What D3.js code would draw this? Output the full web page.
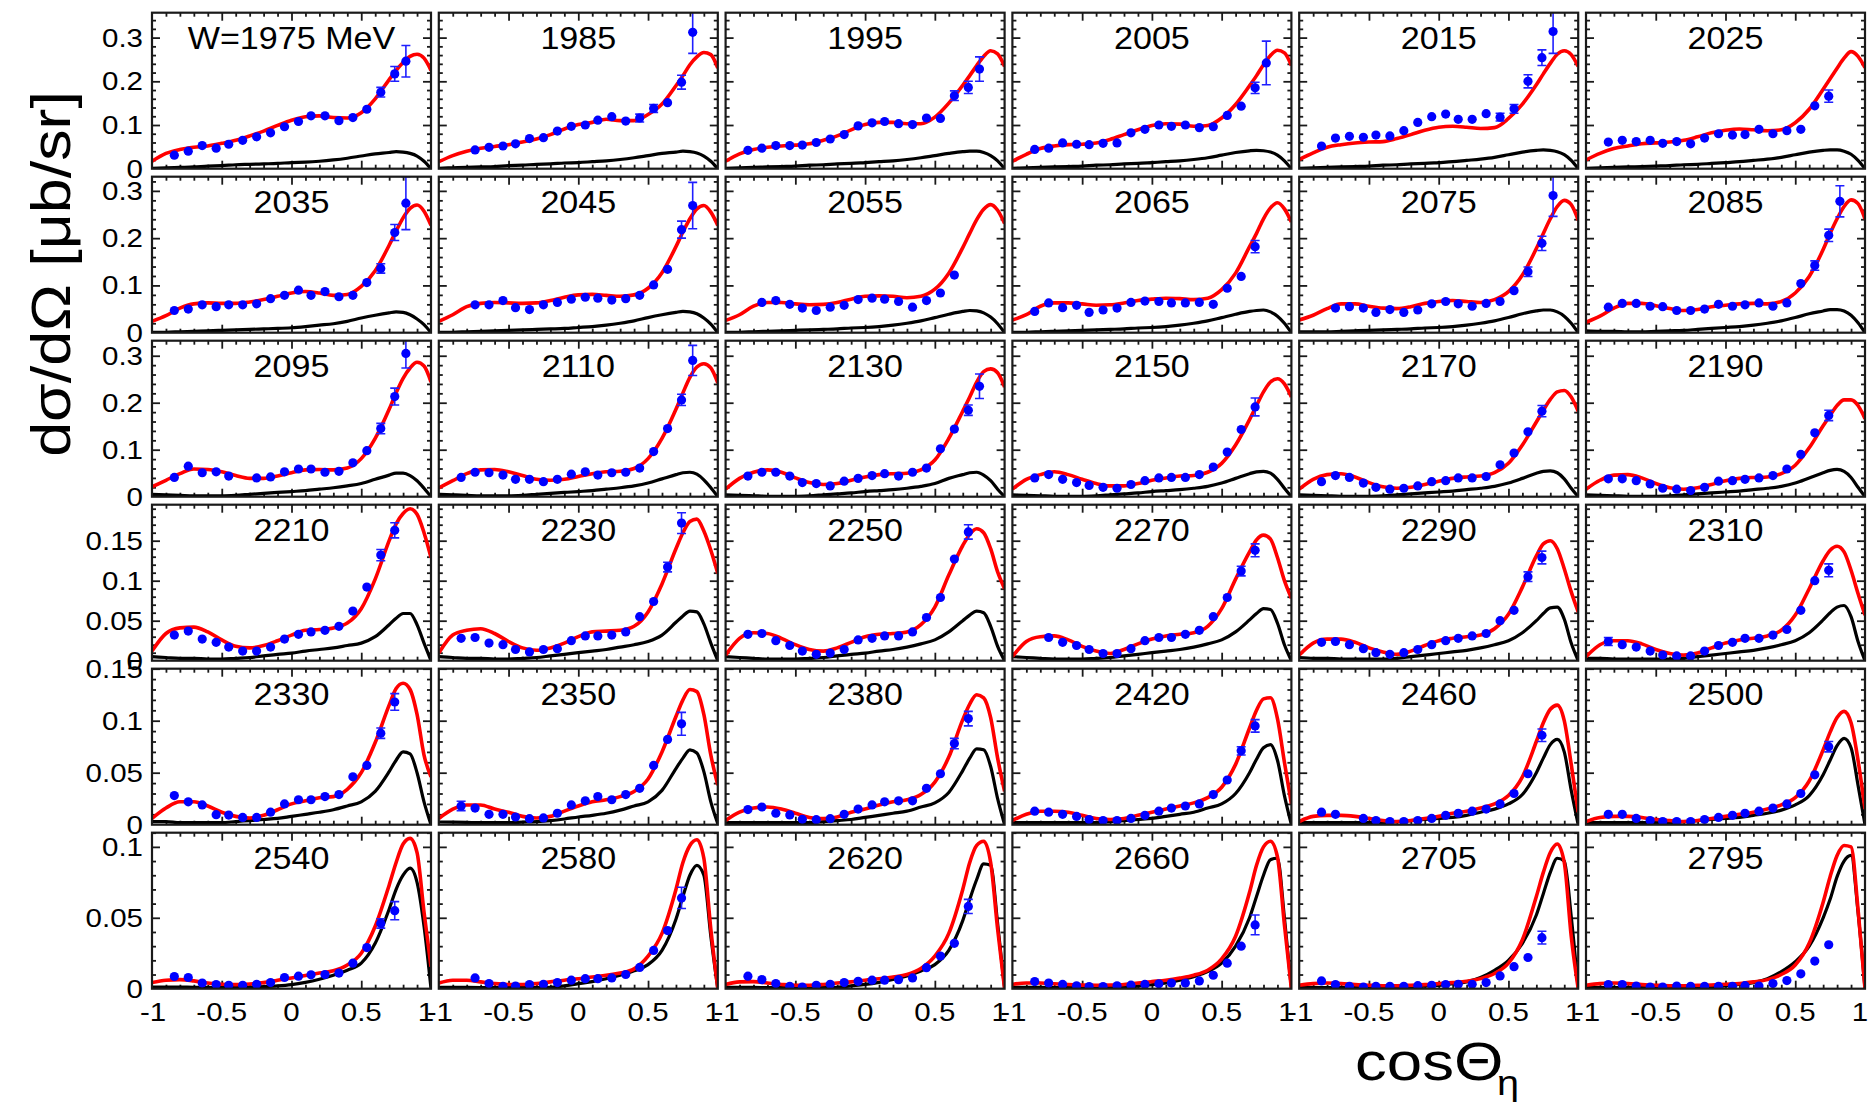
<!DOCTYPE html>
<html>
<head>
<meta charset="utf-8">
<script src="https://cdn.jsdelivr.net/npm/d3@7"></script>
<style>
  body { margin: 0; background: #fff; }
  text { font-family: "Liberation Sans", Arial, Helvetica, sans-serif; fill: #000; }
</style>
</head>
<body>
<svg id="chart" width="1868" height="1105"></svg>
<script>
// Beam energies W (MeV), one panel each, read row by row
const energies = [1975,1985,1995,2005,2015,2025,
                  2035,2045,2055,2065,2075,2085,
                  2095,2110,2130,2150,2170,2190,
                  2210,2230,2250,2270,2290,2310,
                  2330,2350,2380,2420,2460,2500,
                  2540,2580,2620,2660,2705,2795];

// y range and tick labels for each row of panels
const rowYMax = [0.357, 0.33, 0.332, 0.195, 0.15, 0.11];
const rowYTickSets = [
  [["0",0],["0.1",0.1],["0.2",0.2],["0.3",0.3]],
  [["0",0],["0.1",0.1],["0.2",0.2],["0.3",0.3]],
  [["0",0],["0.1",0.1],["0.2",0.2],["0.3",0.3]],
  [["0",0],["0.05",0.05],["0.1",0.1],["0.15",0.15]],
  [["0",0],["0.05",0.05],["0.1",0.1],["0.15",0.15]],
  [["0",0],["0.05",0.05],["0.1",0.1]]
];
const rowYMinor = [0.02,0.02,0.02,0.01,0.01,0.01];
const xTickLabels = [["-1",-1],["-0.5",-0.5],["0",0],["0.5",0.5],["1",1]];

// cos(theta_eta) bin centres of the measured points
const cosBins = [-0.84,-0.74,-0.64,-0.54,-0.45,-0.35,-0.25,-0.15,-0.05,0.05,0.14,0.24,0.34,0.44,0.54,0.64,0.74,0.82];

// dsigma/dOmega [mub/sr] per panel, one entry per bin (null = no point)
const sigma = [
 [0.031,0.040,0.053,0.047,0.056,0.065,0.073,0.082,0.096,0.108,0.121,0.121,0.110,0.117,0.136,0.175,0.217,0.246],
 [null,0.043,0.049,0.052,0.057,0.069,0.071,0.086,0.097,0.100,0.111,0.119,0.109,0.116,0.138,0.151,0.198,0.312],
 [0.042,0.047,0.053,0.053,0.054,0.060,0.068,0.078,0.098,0.105,0.108,0.103,0.101,0.116,0.115,0.167,0.186,0.228],
 [0.044,0.047,0.059,0.056,0.055,0.058,0.059,0.082,0.090,0.100,0.097,0.100,0.094,0.096,0.122,0.143,0.185,0.242],
 [0.052,0.070,0.074,0.072,0.077,0.075,0.087,0.106,0.119,0.125,0.113,0.113,0.126,0.118,0.137,0.200,0.254,0.314],
 [0.061,0.065,0.062,0.065,0.058,0.062,0.057,0.070,0.080,0.077,0.078,0.090,0.080,0.087,0.090,0.144,0.166,null],
 [0.047,0.050,0.059,0.055,0.059,0.059,0.061,0.072,0.079,0.090,0.079,0.087,0.076,0.079,0.106,0.136,0.212,0.274],
 [null,0.059,0.059,0.068,0.053,0.049,0.059,0.064,0.071,0.075,0.073,0.069,0.072,0.079,0.101,0.134,0.218,0.269],
 [null,0.064,0.068,0.060,0.052,0.047,0.054,0.058,0.070,0.073,0.071,0.066,0.054,0.068,0.084,0.122,null,null],
 [0.045,0.063,0.053,0.058,0.043,0.048,0.052,0.064,0.067,0.066,0.063,0.063,0.064,0.060,0.094,0.119,0.182,null],
 [null,0.052,0.055,0.052,0.043,0.049,0.043,0.048,0.061,0.066,0.061,0.056,0.062,0.066,0.089,0.129,0.189,0.290],
 [0.054,0.062,0.062,0.056,0.055,0.047,0.047,0.050,0.060,0.056,0.059,0.063,0.056,0.063,0.104,0.142,0.206,0.278],
 [0.041,0.065,0.051,0.053,0.044,null,0.040,0.042,0.053,0.059,0.059,0.052,0.054,0.072,0.098,0.145,0.213,0.305],
 [0.041,0.052,0.051,0.046,0.037,0.037,0.032,0.037,0.048,0.053,0.046,0.051,0.052,0.061,0.096,0.145,0.206,0.290],
 [0.044,0.052,0.052,0.044,0.030,0.028,0.023,0.033,0.039,0.045,0.049,0.044,0.052,0.061,0.102,0.144,0.184,0.235],
 [0.040,0.047,0.037,0.030,0.024,0.020,0.018,0.026,0.034,0.040,0.041,0.041,0.047,0.063,0.095,0.143,0.191,null],
 [0.032,0.045,0.041,0.029,0.020,0.016,0.018,0.023,0.032,0.034,0.040,0.040,0.043,0.068,0.093,0.138,0.182,null],
 [0.038,0.038,0.034,0.027,0.018,0.016,0.013,0.020,0.033,0.034,0.037,0.040,0.045,0.059,0.090,0.136,0.173,null],
 [0.032,0.037,0.027,0.023,0.017,0.012,0.012,0.017,0.027,0.033,0.036,0.038,0.043,0.062,0.092,0.132,0.163,null],
 [0.028,0.029,0.022,0.020,0.014,0.011,0.014,0.015,0.025,0.031,0.031,0.032,0.036,0.055,0.074,0.117,0.172,null],
 [0.033,0.034,0.025,0.019,0.012,0.008,0.0095,0.014,0.026,0.028,0.031,0.031,0.036,0.054,0.079,0.127,0.161,null],
 [null,0.029,0.023,0.019,0.014,0.009,0.009,0.015,0.025,0.029,0.029,0.033,0.038,0.055,0.079,0.112,0.138,null],
 [0.023,0.024,0.020,0.015,0.010,0.008,0.010,0.014,0.020,0.025,0.028,0.031,0.034,0.050,0.063,0.105,0.129,null],
 [0.024,0.020,0.017,0.012,0.007,0.006,0.006,0.012,0.019,0.023,0.028,0.028,0.032,0.039,0.063,0.100,0.113,null],
 [0.028,0.022,0.019,0.0096,0.0093,0.007,0.007,0.012,0.020,0.024,0.024,0.027,0.029,0.046,0.057,0.088,0.118,null],
 [0.018,0.016,0.010,0.010,0.0074,0.0058,0.0065,0.011,0.019,0.023,0.027,0.024,0.029,0.035,0.057,0.082,0.097,null],
 [0.0145,0.017,0.011,0.0094,0.0052,0.0048,0.0058,0.010,0.015,0.019,0.022,0.023,0.023,0.035,0.049,0.078,0.102,null],
 [0.013,0.012,0.010,0.008,0.005,0.004,0.004,0.006,0.009,0.013,0.016,0.018,0.020,0.029,0.043,0.071,0.095,null],
 [0.012,0.010,null,0.006,0.004,0.003,0.003,0.004,0.006,0.009,0.011,0.013,0.015,0.020,0.030,0.049,0.086,null],
 [0.010,0.010,0.006,0.004,0.003,0.003,0.003,0.005,0.007,0.009,0.011,0.013,0.016,0.020,0.030,0.048,0.075,null],
 [0.0086,0.0079,0.004,0.0029,0.0024,0.0024,0.0031,0.0043,0.0079,0.0088,0.0098,0.010,0.011,0.018,0.029,0.046,0.055,null],
 [null,0.0076,0.0036,0.0017,0.0019,0.0029,0.0031,0.0043,0.006,0.0071,0.0071,0.0076,0.010,0.015,0.027,0.041,0.064,null],
 [0.0088,0.0064,0.0036,0.0017,0.0012,0.0024,0.0031,0.0043,0.0052,0.006,0.006,0.0064,0.0076,0.0148,0.023,0.032,0.058,null],
 [0.005,0.004,0.003,0.002,0.0015,0.0015,0.002,0.0025,0.003,0.0035,0.004,0.004,0.0055,0.0095,0.018,0.030,0.045,null],
 [0.0055,0.0029,0.0017,0.0012,0.0017,0.0017,0.0017,0.0021,0.0024,0.0029,0.0031,0.0031,0.0043,0.009,0.0155,0.022,0.036,null],
 [0.0029,0.0029,0.0019,0.0012,0.0012,0.0019,0.0017,0.0017,0.0017,0.0017,0.0021,0.0019,0.0036,0.0057,0.0105,0.0195,0.031,null]
];

// statistical errors, keyed by bin index (only where they exceed the marker)
const sigmaErr = [
 {15:0.011,16:0.017,17:0.036}, {13:0.009,14:0.009,16:0.016,17:0.048}, {15:0.011,16:0.014,17:0.028},
 {16:0.013,17:0.05}, {13:0.009,14:0.010,15:0.015,16:0.018,17:0.05}, {16:0.014},
 {15:0.010,16:0.017,17:0.056}, {16:0.018,17:0.049}, {},
 {16:0.013}, {15:0.010,16:0.015,17:0.044}, {15:0.010,16:0.013,17:0.033},
 {15:0.011,16:0.018,17:0.031}, {16:0.012,17:0.032}, {16:0.011,17:0.026},
 {16:0.019}, {16:0.012}, {16:0.011},
 {15:0.007,16:0.0095}, {15:0.006,16:0.013}, {16:0.009},
 {15:0.006,16:0.008}, {15:0.006,16:0.008}, {0:0.005,16:0.008},
 {15:0.005,16:0.008}, {0:0.0045,16:0.011}, {15:0.005,16:0.007},
 {15:0.004,16:0.006}, {16:0.006}, {16:0.005},
 {15:0.0033,16:0.0064}, {16:0.0075}, {16:0.005},
 {16:0.007}, {16:0.0045}, {}
];

// abscissae of the model curves
const curveCos = [-1,-0.9,-0.8,-0.7,-0.6,-0.5,-0.4,-0.3,-0.2,-0.1,0,0.1,0.2,0.3,0.4,0.5,0.6,0.7,0.75,0.8,0.85,0.9,0.95,1];

// full model (red)
const fitFull = [
 [0.017,0.035,0.044,0.049,0.052,0.058,0.065,0.075,0.086,0.099,0.111,0.119,0.121,0.117,0.116,0.128,0.160,0.204,0.225,0.243,0.257,0.262,0.253,0.225],
 [0.016,0.030,0.040,0.047,0.051,0.055,0.061,0.068,0.078,0.091,0.101,0.106,0.113,0.110,0.110,0.124,0.148,0.190,0.213,0.238,0.256,0.266,0.261,0.230],
 [0.017,0.034,0.044,0.049,0.052,0.054,0.057,0.065,0.075,0.089,0.101,0.106,0.106,0.103,0.103,0.118,0.150,0.191,0.213,0.236,0.257,0.270,0.263,0.234],
 [0.017,0.033,0.046,0.052,0.055,0.056,0.059,0.067,0.078,0.089,0.099,0.103,0.102,0.097,0.099,0.116,0.147,0.190,0.213,0.238,0.259,0.271,0.265,0.236],
 [0.021,0.036,0.049,0.055,0.059,0.061,0.062,0.069,0.078,0.088,0.095,0.097,0.095,0.092,0.094,0.115,0.148,0.192,0.217,0.241,0.262,0.270,0.261,0.234],
 [0.020,0.035,0.046,0.052,0.057,0.059,0.061,0.065,0.073,0.082,0.088,0.091,0.089,0.087,0.089,0.105,0.136,0.182,0.206,0.230,0.253,0.268,0.257,0.231],
 [0.024,0.036,0.052,0.061,0.063,0.062,0.062,0.065,0.070,0.077,0.084,0.087,0.084,0.079,0.081,0.098,0.131,0.185,0.215,0.243,0.263,0.270,0.257,0.227],
 [0.024,0.038,0.055,0.062,0.064,0.063,0.062,0.063,0.068,0.075,0.080,0.081,0.079,0.077,0.080,0.094,0.127,0.182,0.213,0.241,0.262,0.269,0.255,0.227],
 [0.026,0.038,0.056,0.064,0.064,0.061,0.059,0.060,0.064,0.071,0.077,0.078,0.077,0.074,0.077,0.092,0.126,0.180,0.210,0.239,0.261,0.271,0.259,0.231],
 [0.027,0.038,0.056,0.063,0.063,0.061,0.058,0.059,0.063,0.068,0.071,0.073,0.072,0.070,0.073,0.091,0.126,0.182,0.210,0.241,0.264,0.275,0.262,0.234],
 [0.027,0.037,0.051,0.061,0.061,0.056,0.052,0.051,0.055,0.062,0.066,0.068,0.066,0.064,0.070,0.087,0.122,0.178,0.210,0.241,0.267,0.280,0.271,0.238],
 [0.022,0.035,0.052,0.062,0.062,0.057,0.051,0.047,0.049,0.055,0.058,0.061,0.062,0.061,0.066,0.084,0.119,0.176,0.210,0.241,0.267,0.281,0.273,0.241],
 [0.021,0.035,0.049,0.059,0.058,0.053,0.045,0.039,0.039,0.044,0.051,0.057,0.058,0.057,0.061,0.081,0.124,0.186,0.221,0.252,0.274,0.286,0.278,0.244],
 [0.019,0.034,0.049,0.057,0.058,0.053,0.045,0.037,0.035,0.037,0.043,0.049,0.053,0.054,0.060,0.081,0.124,0.186,0.221,0.254,0.276,0.283,0.274,0.242],
 [0.016,0.039,0.052,0.057,0.052,0.040,0.030,0.026,0.028,0.035,0.042,0.047,0.049,0.050,0.057,0.078,0.124,0.182,0.212,0.244,0.266,0.272,0.264,0.233],
 [0.016,0.037,0.047,0.053,0.047,0.037,0.028,0.023,0.023,0.028,0.035,0.040,0.044,0.045,0.052,0.071,0.110,0.164,0.194,0.223,0.244,0.251,0.240,0.212],
 [0.016,0.037,0.047,0.049,0.042,0.030,0.021,0.018,0.020,0.026,0.033,0.039,0.042,0.044,0.051,0.071,0.110,0.159,0.184,0.207,0.223,0.226,0.212,0.182],
 [0.016,0.035,0.046,0.047,0.040,0.028,0.019,0.016,0.019,0.026,0.034,0.039,0.041,0.042,0.049,0.067,0.104,0.151,0.173,0.194,0.206,0.206,0.194,0.166],
 [0.012,0.034,0.041,0.042,0.036,0.026,0.018,0.016,0.019,0.025,0.032,0.038,0.039,0.041,0.047,0.065,0.102,0.150,0.171,0.184,0.190,0.183,0.160,0.129],
 [0.0095,0.032,0.038,0.040,0.034,0.024,0.016,0.013,0.016,0.022,0.030,0.036,0.037,0.038,0.043,0.061,0.096,0.140,0.160,0.174,0.177,0.162,0.138,0.109],
 [0.007,0.028,0.035,0.034,0.028,0.020,0.014,0.012,0.016,0.023,0.030,0.033,0.034,0.036,0.045,0.067,0.107,0.144,0.158,0.165,0.160,0.140,0.111,0.090],
 [0.005,0.024,0.030,0.031,0.026,0.018,0.012,0.009,0.014,0.021,0.027,0.031,0.033,0.035,0.043,0.065,0.102,0.136,0.151,0.157,0.152,0.129,0.100,0.078],
 [0.007,0.022,0.027,0.027,0.023,0.016,0.011,0.008,0.012,0.019,0.025,0.028,0.030,0.032,0.040,0.058,0.092,0.131,0.146,0.150,0.140,0.115,0.086,0.061],
 [0.005,0.020,0.025,0.025,0.021,0.014,0.009,0.007,0.0095,0.016,0.022,0.026,0.028,0.031,0.038,0.057,0.090,0.125,0.138,0.143,0.136,0.113,0.084,0.057],
 [0.006,0.016,0.022,0.022,0.018,0.012,0.008,0.0064,0.009,0.0144,0.020,0.023,0.026,0.027,0.034,0.050,0.079,0.115,0.131,0.136,0.130,0.106,0.067,0.046],
 [0.006,0.015,0.019,0.019,0.015,0.012,0.008,0.0065,0.008,0.013,0.018,0.022,0.024,0.027,0.032,0.044,0.070,0.104,0.120,0.130,0.128,0.106,0.067,0.038],
 [0.004,0.012,0.016,0.017,0.015,0.011,0.007,0.0058,0.0074,0.012,0.015,0.019,0.022,0.024,0.029,0.041,0.065,0.101,0.116,0.125,0.122,0.103,0.064,0.032],
 [0.004,0.010,0.013,0.013,0.012,0.009,0.006,0.005,0.006,0.009,0.012,0.015,0.018,0.021,0.026,0.036,0.058,0.093,0.110,0.121,0.122,0.102,0.060,0.020],
 [0.003,0.008,0.009,0.009,0.008,0.006,0.004,0.003,0.004,0.006,0.008,0.011,0.013,0.016,0.020,0.028,0.046,0.080,0.098,0.111,0.115,0.100,0.058,0.012],
 [0.003,0.007,0.008,0.008,0.007,0.005,0.004,0.003,0.004,0.006,0.008,0.010,0.012,0.015,0.019,0.026,0.042,0.072,0.089,0.103,0.109,0.098,0.062,0.015],
 [0.0043,0.006,0.0064,0.0055,0.004,0.0031,0.0029,0.0033,0.0043,0.006,0.0076,0.0093,0.011,0.0126,0.0167,0.025,0.044,0.073,0.089,0.102,0.106,0.096,0.054,0.0155],
 [0.004,0.006,0.006,0.0048,0.0036,0.003,0.003,0.0036,0.0048,0.006,0.007,0.0083,0.0095,0.011,0.014,0.023,0.039,0.070,0.089,0.101,0.105,0.092,0.042,0.0],
 [0.003,0.0048,0.005,0.004,0.003,0.0024,0.0024,0.003,0.004,0.0048,0.006,0.007,0.0083,0.010,0.0143,0.023,0.039,0.070,0.089,0.101,0.104,0.089,0.042,0.0],
 [0.003,0.004,0.004,0.0035,0.003,0.0025,0.0024,0.0026,0.003,0.004,0.005,0.006,0.0075,0.0095,0.013,0.021,0.037,0.068,0.087,0.100,0.104,0.093,0.045,0.0],
 [0.0024,0.0036,0.004,0.0036,0.0029,0.0024,0.0021,0.0021,0.0024,0.0029,0.0036,0.0043,0.0052,0.0071,0.0107,0.018,0.0345,0.065,0.082,0.096,0.102,0.089,0.037,0.0],
 [0.0024,0.0036,0.004,0.0036,0.0029,0.0024,0.0021,0.0021,0.0024,0.0026,0.0031,0.0036,0.0048,0.0064,0.010,0.0167,0.032,0.061,0.079,0.094,0.101,0.100,0.056,0.0]
];

// single-contribution model (black)
const fitPart = [
 [0.001,0.002,0.003,0.004,0.006,0.007,0.009,0.010,0.011,0.012,0.014,0.015,0.017,0.020,0.024,0.029,0.034,0.037,0.039,0.038,0.035,0.029,0.017,0.0],
 [0.001,0.002,0.003,0.004,0.005,0.007,0.008,0.010,0.011,0.013,0.014,0.016,0.018,0.021,0.025,0.030,0.035,0.038,0.040,0.039,0.036,0.029,0.017,0.0],
 [0.001,0.002,0.003,0.004,0.005,0.006,0.008,0.009,0.011,0.012,0.014,0.016,0.018,0.021,0.025,0.030,0.035,0.039,0.040,0.040,0.037,0.030,0.018,0.0],
 [0.001,0.002,0.003,0.004,0.005,0.006,0.008,0.009,0.011,0.012,0.014,0.016,0.018,0.021,0.025,0.031,0.037,0.041,0.042,0.041,0.038,0.031,0.018,0.0],
 [0.001,0.002,0.003,0.004,0.005,0.006,0.008,0.009,0.011,0.012,0.014,0.016,0.019,0.022,0.026,0.032,0.038,0.042,0.043,0.042,0.039,0.032,0.019,0.0],
 [0.001,0.002,0.003,0.004,0.005,0.006,0.007,0.009,0.010,0.012,0.014,0.016,0.019,0.022,0.026,0.032,0.038,0.042,0.043,0.043,0.040,0.033,0.019,0.0],
 [0.001,0.001,0.002,0.003,0.004,0.005,0.006,0.007,0.008,0.009,0.0105,0.013,0.016,0.019,0.024,0.031,0.037,0.042,0.044,0.043,0.038,0.029,0.017,0.0],
 [0.001,0.001,0.002,0.003,0.004,0.005,0.006,0.007,0.008,0.009,0.011,0.013,0.016,0.020,0.025,0.032,0.038,0.043,0.045,0.044,0.040,0.031,0.018,0.0],
 [0.001,0.001,0.002,0.003,0.004,0.005,0.006,0.007,0.008,0.010,0.011,0.013,0.016,0.020,0.025,0.032,0.039,0.045,0.047,0.046,0.042,0.033,0.019,0.0],
 [0.001,0.001,0.002,0.003,0.004,0.005,0.006,0.007,0.008,0.010,0.011,0.013,0.016,0.020,0.025,0.032,0.039,0.045,0.047,0.048,0.044,0.035,0.020,0.0],
 [0.002,0.002,0.002,0.003,0.004,0.005,0.006,0.007,0.008,0.010,0.011,0.013,0.016,0.020,0.025,0.032,0.040,0.046,0.048,0.048,0.044,0.035,0.020,0.0],
 [0.004,0.003,0.003,0.002,0.002,0.003,0.004,0.005,0.007,0.009,0.011,0.013,0.016,0.020,0.025,0.032,0.040,0.046,0.049,0.049,0.046,0.037,0.021,0.0],
 [0.005,0.004,0.003,0.002,0.002,0.002,0.003,0.005,0.007,0.009,0.011,0.013,0.016,0.019,0.023,0.028,0.037,0.046,0.050,0.050,0.045,0.034,0.018,0.0],
 [0.005,0.004,0.003,0.002,0.002,0.002,0.003,0.005,0.007,0.009,0.011,0.013,0.016,0.019,0.023,0.029,0.038,0.047,0.051,0.052,0.048,0.036,0.019,0.0],
 [0.004,0.003,0.002,0.001,0.001,0.001,0.002,0.004,0.006,0.008,0.011,0.013,0.015,0.018,0.022,0.028,0.039,0.047,0.051,0.052,0.046,0.034,0.016,0.0],
 [0.004,0.003,0.002,0.001,0.001,0.001,0.002,0.004,0.006,0.008,0.011,0.013,0.015,0.018,0.022,0.029,0.039,0.049,0.053,0.054,0.050,0.037,0.018,0.0],
 [0.004,0.003,0.002,0.001,0.001,0.001,0.002,0.004,0.006,0.008,0.010,0.012,0.015,0.018,0.022,0.029,0.039,0.050,0.054,0.055,0.051,0.038,0.018,0.0],
 [0.004,0.003,0.002,0.001,0.001,0.001,0.002,0.004,0.006,0.008,0.010,0.012,0.015,0.018,0.022,0.029,0.040,0.051,0.056,0.058,0.054,0.041,0.020,0.0],
 [0.005,0.004,0.003,0.003,0.002,0.002,0.003,0.004,0.006,0.008,0.0095,0.012,0.014,0.016,0.019,0.022,0.030,0.045,0.053,0.059,0.059,0.045,0.022,0.0],
 [0.005,0.004,0.003,0.003,0.002,0.002,0.003,0.004,0.006,0.008,0.010,0.012,0.014,0.017,0.020,0.024,0.032,0.048,0.056,0.062,0.061,0.046,0.022,0.0],
 [0.005,0.004,0.003,0.002,0.002,0.002,0.003,0.004,0.006,0.008,0.0095,0.012,0.014,0.017,0.021,0.026,0.036,0.050,0.057,0.062,0.060,0.043,0.018,0.0],
 [0.005,0.004,0.003,0.002,0.002,0.002,0.003,0.004,0.006,0.008,0.010,0.012,0.014,0.017,0.021,0.026,0.036,0.051,0.059,0.065,0.064,0.047,0.020,0.0],
 [0.004,0.003,0.003,0.002,0.002,0.002,0.002,0.003,0.005,0.007,0.009,0.011,0.013,0.016,0.020,0.025,0.035,0.050,0.059,0.066,0.067,0.052,0.022,0.0],
 [0.003,0.003,0.002,0.002,0.002,0.002,0.002,0.003,0.005,0.007,0.009,0.011,0.013,0.016,0.020,0.025,0.035,0.051,0.060,0.067,0.069,0.055,0.024,0.0],
 [0.003,0.003,0.002,0.002,0.002,0.002,0.003,0.004,0.005,0.006,0.008,0.010,0.012,0.0144,0.018,0.022,0.032,0.051,0.062,0.070,0.068,0.050,0.022,0.0],
 [0.0026,0.0024,0.0022,0.002,0.002,0.002,0.0025,0.003,0.004,0.0055,0.0074,0.009,0.011,0.014,0.018,0.022,0.033,0.054,0.064,0.072,0.069,0.051,0.022,0.001],
 [0.002,0.002,0.002,0.002,0.002,0.002,0.002,0.003,0.004,0.005,0.007,0.009,0.011,0.013,0.017,0.021,0.031,0.052,0.064,0.073,0.072,0.056,0.025,0.0],
 [0.002,0.002,0.002,0.002,0.002,0.002,0.002,0.003,0.004,0.005,0.006,0.008,0.010,0.012,0.016,0.020,0.030,0.050,0.063,0.074,0.077,0.062,0.028,0.0],
 [0.002,0.002,0.002,0.002,0.002,0.002,0.002,0.003,0.004,0.005,0.006,0.007,0.009,0.012,0.015,0.020,0.029,0.050,0.064,0.077,0.082,0.070,0.033,0.0],
 [0.002,0.002,0.002,0.002,0.002,0.002,0.002,0.003,0.004,0.005,0.006,0.007,0.009,0.011,0.014,0.019,0.028,0.048,0.062,0.076,0.083,0.074,0.038,0.0],
 [0.0012,0.0012,0.0011,0.001,0.0009,0.0008,0.0009,0.0012,0.0015,0.002,0.0029,0.0045,0.0067,0.0095,0.013,0.018,0.032,0.056,0.070,0.080,0.085,0.075,0.044,0.0],
 [0.001,0.001,0.0009,0.0008,0.0007,0.0007,0.0007,0.0008,0.001,0.002,0.0036,0.005,0.007,0.0095,0.0126,0.017,0.027,0.049,0.065,0.080,0.087,0.080,0.037,0.0],
 [0.001,0.001,0.0009,0.0008,0.0007,0.0007,0.0007,0.0008,0.001,0.002,0.003,0.0045,0.0065,0.009,0.0125,0.017,0.027,0.048,0.063,0.077,0.088,0.087,0.046,0.0],
 [0.001,0.001,0.0009,0.0008,0.0007,0.0007,0.0007,0.0008,0.001,0.0018,0.0028,0.004,0.006,0.0085,0.012,0.018,0.030,0.050,0.065,0.080,0.091,0.092,0.050,0.0],
 [0.0007,0.0007,0.0007,0.0007,0.0007,0.0007,0.0008,0.001,0.0013,0.0018,0.0024,0.0035,0.0048,0.0079,0.013,0.020,0.032,0.052,0.067,0.082,0.092,0.090,0.051,0.0],
 [0.0007,0.0007,0.0007,0.0007,0.0007,0.0008,0.0009,0.001,0.0012,0.0015,0.002,0.003,0.0043,0.0071,0.012,0.019,0.030,0.050,0.063,0.079,0.090,0.094,0.054,0.0]
];

// ---- layout ----
const svg = d3.select("#chart");
const nCols = 6;
const gridLeft = 152, colPitch = 286.8, panelW = 279;
const gridTop = 12.7, rowPitch = 164, panelH = 156;
const RED = "#ff0000", BLUE = "#0000ff", FRAME = "#1a1a1a";

// text with the slightly wide look of the original typeface
function wideText(parent, x, y, str, size, stretch, anchor) {
  return parent.append("text")
    .attr("transform", `translate(${x},${y}) scale(${stretch},1)`)
    .attr("font-size", size)
    .attr("text-anchor", anchor || "middle")
    .text(str);
}

const defs = svg.append("defs");

energies.forEach((W, i) => {
  const r = Math.floor(i / nCols), c = i % nCols;
  const left = gridLeft + c * colPitch, top = gridTop + r * rowPitch;
  const x = d3.scaleLinear().domain([-1, 1]).range([left, left + panelW]);
  const y = d3.scaleLinear().domain([0, rowYMax[r]]).range([top + panelH, top]);
  const g = svg.append("g").attr("class", "panel");

  defs.append("clipPath").attr("id", "clip" + i)
    .append("rect").attr("x", left).attr("y", top).attr("width", panelW).attr("height", panelH);

  // ticks on all four sides, pointing inwards
  const xMajor = [-0.5, 0, 0.5];
  const xMinor = d3.range(-9, 10).map(k => k / 10).filter(v => Math.abs(v * 2 - Math.round(v * 2)) > 1e-6);
  const yStep = rowYMinor[r];
  const yMajorStep = r < 3 ? 0.1 : 0.05;
  const yAll = d3.range(1, Math.floor(rowYMax[r] / yStep + 1e-6) + 1).map(k => +(k * yStep).toFixed(4));
  const yMajor = yAll.filter(v => Math.abs(v / yMajorStep - Math.round(v / yMajorStep)) < 1e-6);
  const yMinor = yAll.filter(v => !yMajor.includes(v));

  const tickG = g.append("g").attr("color", FRAME);
  const addAxis = (axis, tr) => tickG.append("g").attr("transform", tr).call(axis)
    .call(s => s.select(".domain").remove()).call(s => s.selectAll("line").attr("stroke-width", 1.8));
  addAxis(d3.axisBottom(x).tickValues(xMajor).tickSize(-8).tickFormat(""), `translate(0,${top + panelH})`);
  addAxis(d3.axisBottom(x).tickValues(xMinor).tickSize(-4).tickFormat(""), `translate(0,${top + panelH})`);
  addAxis(d3.axisTop(x).tickValues(xMajor).tickSize(-8).tickFormat(""), `translate(0,${top})`);
  addAxis(d3.axisTop(x).tickValues(xMinor).tickSize(-4).tickFormat(""), `translate(0,${top})`);
  addAxis(d3.axisLeft(y).tickValues(yMajor).tickSize(-8).tickFormat(""), `translate(${left},0)`);
  addAxis(d3.axisLeft(y).tickValues(yMinor).tickSize(-4).tickFormat(""), `translate(${left},0)`);
  addAxis(d3.axisRight(y).tickValues(yMajor).tickSize(-8).tickFormat(""), `translate(${left + panelW},0)`);
  addAxis(d3.axisRight(y).tickValues(yMinor).tickSize(-4).tickFormat(""), `translate(${left + panelW},0)`);

  // model curves
  const line = d3.line().x(d => x(d[0])).y(d => y(d[1])).curve(d3.curveMonotoneX);
  const plot = g.append("g").attr("clip-path", `url(#clip${i})`);
  plot.append("path").datum(curveCos.map((cv, k) => [cv, fitPart[i][k]]))
    .attr("d", line).attr("fill", "none").attr("stroke", "#000").attr("stroke-width", 3.2)
    .attr("stroke-linejoin", "round");
  plot.append("path").datum(curveCos.map((cv, k) => [cv, fitFull[i][k]]))
    .attr("d", line).attr("fill", "none").attr("stroke", RED).attr("stroke-width", 3.6)
    .attr("stroke-linejoin", "round");

  // data points with error bars
  const pts = cosBins.map((cv, k) => ({ c: cv, v: sigma[i][k], e: sigmaErr[i][k] || 0 }))
    .filter(d => d.v !== null);
  const errPts = pts.filter(d => d.e > 0);
  const eb = plot.append("g").attr("stroke", "#1f1fff").attr("stroke-width", 1.6);
  eb.selectAll("line.v").data(errPts).join("line").attr("class", "v")
    .attr("x1", d => x(d.c)).attr("x2", d => x(d.c))
    .attr("y1", d => y(d.v - d.e)).attr("y2", d => y(d.v + d.e));
  eb.selectAll("line.t").data(errPts).join("line").attr("class", "t")
    .attr("x1", d => x(d.c) - 4.5).attr("x2", d => x(d.c) + 4.5)
    .attr("y1", d => y(d.v + d.e)).attr("y2", d => y(d.v + d.e));
  eb.selectAll("line.b").data(errPts).join("line").attr("class", "b")
    .attr("x1", d => x(d.c) - 4.5).attr("x2", d => x(d.c) + 4.5)
    .attr("y1", d => y(d.v - d.e)).attr("y2", d => y(d.v - d.e));
  plot.append("g").selectAll("circle").data(pts).join("circle")
    .attr("cx", d => x(d.c)).attr("cy", d => y(d.v)).attr("r", 4.6).attr("fill", BLUE);

  // frame
  g.append("rect").attr("x", left).attr("y", top).attr("width", panelW).attr("height", panelH)
    .attr("fill", "none").attr("stroke", FRAME).attr("stroke-width", 2.2);

  // energy label
  wideText(g, left + panelW / 2, top + 36.5, i === 0 ? `W=${W} MeV` : `${W}`, 31, 1.1);

  // y tick labels on the first column
  if (c === 0) {
    rowYTickSets[r].forEach(([txt, v]) => {
      wideText(g, left - 9, y(v) + 9, txt, 25, 1.18, "end");
    });
  }
  // x tick labels on the bottom row; the end labels sit a little inwards
  if (r === 5) {
    xTickLabels.forEach(([txt, v]) => {
      const xx = v === 1 ? x(v) - 5 : (v === -1 ? x(v) + 1 : x(v));
      wideText(g, xx, top + panelH + 32, txt, 25, 1.18);
    });
  }
});

// axis titles
svg.append("text")
  .attr("transform", "translate(70,274) rotate(-90) scale(1.12,1)")
  .attr("font-size", 56).attr("text-anchor", "middle")
  .text("dσ/dΩ [μb/sr]");
wideText(svg, 1355, 1080, "cosΘ", 53, 1.2, "start");
wideText(svg, 1497, 1095, "η", 36, 1.1, "start");
</script>
</body>
</html>
